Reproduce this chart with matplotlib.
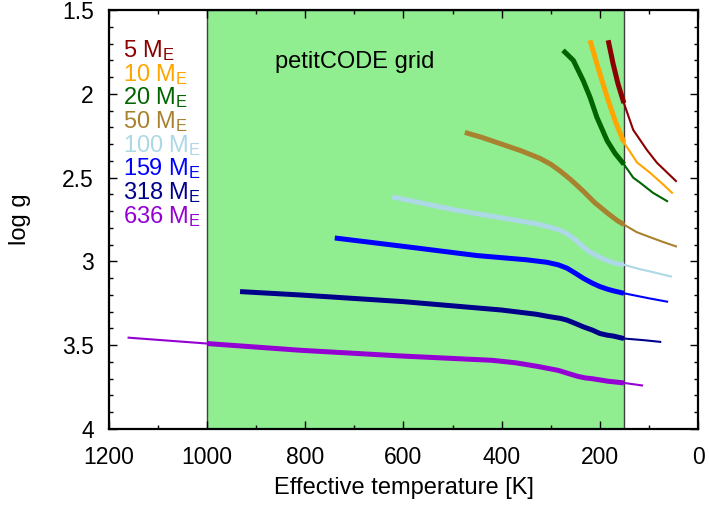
import numpy as np
import matplotlib
matplotlib.use("Agg")
import matplotlib.pyplot as plt
from matplotlib.ticker import MultipleLocator, FuncFormatter

plt.rcParams['font.family'] = ['Liberation Sans', 'DejaVu Sans']
plt.rcParams['mathtext.fontset'] = 'custom'
plt.rcParams['mathtext.rm'] = 'Liberation Sans'
plt.rcParams['mathtext.it'] = 'Liberation Sans:italic'

# grid boundaries
grid_tmax = 1000
grid_tmin = 151

masses = ["5", "10", "20", "50", "100", "159", "318", "636"]
colors = ["#8b0000", "#ffa500", "#006400", "#a8822e", "#add8e6", "#0000ff", "#00008b", "#9400d3"]

T_5 = [183, 178, 173, 163, 151, 132, 104, 84, 45]
g_5 = [1.68, 1.75, 1.82, 1.94, 2.055, 2.215, 2.335, 2.41, 2.52]

T_10 = [220, 212, 204, 185, 169, 151, 124, 98, 75, 53]
g_10 = [1.68, 1.76, 1.84, 2.02, 2.16, 2.29, 2.41, 2.47, 2.53, 2.59]

T_20 = [275, 254, 234, 220, 206, 185, 169, 151, 132, 118, 92, 63]
g_20 = [1.74, 1.80, 1.92, 2.02, 2.14, 2.28, 2.355, 2.42, 2.50, 2.53, 2.59, 2.64]

T_50 = [475, 440, 400, 360, 322, 300, 281, 260, 234, 210, 185, 165, 151, 125, 98, 70, 45]
g_50 = [2.23, 2.26, 2.30, 2.34, 2.385, 2.42, 2.46, 2.51, 2.58, 2.65, 2.71, 2.755, 2.78, 2.825, 2.855, 2.885, 2.91]

T_100 = [623, 500, 400, 330, 302, 280, 267, 250, 235, 220, 200, 185, 170, 151, 120, 90, 55]
g_100 = [2.615, 2.69, 2.74, 2.775, 2.795, 2.815, 2.835, 2.87, 2.91, 2.945, 2.975, 2.995, 3.01, 3.02, 3.045, 3.065, 3.09]

T_159 = [740, 600, 450, 350, 308, 285, 267, 250, 234, 215, 200, 185, 173, 151, 100, 63]
g_159 = [2.86, 2.91, 2.965, 2.99, 3.005, 3.02, 3.04, 3.07, 3.10, 3.13, 3.15, 3.165, 3.175, 3.19, 3.22, 3.24]

T_318 = [933, 811, 600, 400, 330, 302, 280, 267, 250, 234, 215, 200, 185, 173, 151, 110, 77]
g_318 = [3.18, 3.20, 3.24, 3.29, 3.315, 3.33, 3.34, 3.35, 3.37, 3.39, 3.41, 3.43, 3.44, 3.445, 3.46, 3.47, 3.48]

T_636 = [1160, 1000, 811, 600, 420, 371, 324, 285, 265, 246, 230, 215, 183, 151, 114]
g_636 = [3.455, 3.49, 3.53, 3.565, 3.59, 3.605, 3.628, 3.65, 3.668, 3.685, 3.695, 3.70, 3.715, 3.725, 3.74]

series_T = [T_5, T_10, T_20, T_50, T_100, T_159, T_318, T_636]
series_g = [g_5, g_10, g_20, g_50, g_100, g_159, g_318, g_636]

fig = plt.figure(figsize=(7.09, 5.05), dpi=100)
ax = fig.add_axes([0.1537, 0.1505, 0.9845 - 0.1537, 0.980 - 0.1505])

ax.axvspan(grid_tmin, grid_tmax, facecolor="#90ee90", edgecolor="#404040", linewidth=1.0, zorder=0)
ax.text(700, 1.81, "petitCODE grid", fontsize=17, ha="center", va="center")

for T, g, c in zip(series_T, series_g, colors):
    T = np.asarray(T, float)
    g = np.asarray(g, float)
    inside = (T >= grid_tmin) & (T <= grid_tmax)
    low = T <= grid_tmin
    high = T >= grid_tmax
    ax.plot(T[inside], g[inside], color=c, lw=3.6, solid_capstyle="butt",
            solid_joinstyle="round", zorder=3)
    if low.sum() > 1:
        ax.plot(T[low], g[low], color=c, lw=1.5, zorder=2)
    if high.sum() > 1:
        ax.plot(T[high], g[high], color=c, lw=1.5, zorder=2)

for i, (m, c) in enumerate(zip(masses, colors)):
    ax.text(1171, 1.78 + i * 0.1415, m + r" M$_\mathrm{E}$", color=c, fontsize=17,
            ha="left", va="baseline")

ax.set_xlim(1200, 0)
ax.set_ylim(4, 1.5)
ax.xaxis.set_major_locator(MultipleLocator(200))
ax.xaxis.set_minor_locator(MultipleLocator(100))
ax.yaxis.set_major_locator(MultipleLocator(0.5))
ax.yaxis.set_minor_locator(MultipleLocator(0.1))
ax.yaxis.set_major_formatter(FuncFormatter(lambda v, p: "%g" % v))
ax.tick_params(which="both", direction="in", top=True, right=True, labelsize=16.5, width=1.0)
ax.tick_params(which="major", length=6)
ax.tick_params(which="minor", length=3)
ax.tick_params(axis="x", which="major", pad=12)
ax.tick_params(axis="y", which="major", pad=11)
for s in ax.spines.values():
    s.set_linewidth(1.6)

ax.set_xlabel("Effective temperature [K]", fontsize=17, labelpad=6)
ax.set_ylabel("log g", fontsize=17, labelpad=22)

fig.savefig("out.png", dpi=100)
